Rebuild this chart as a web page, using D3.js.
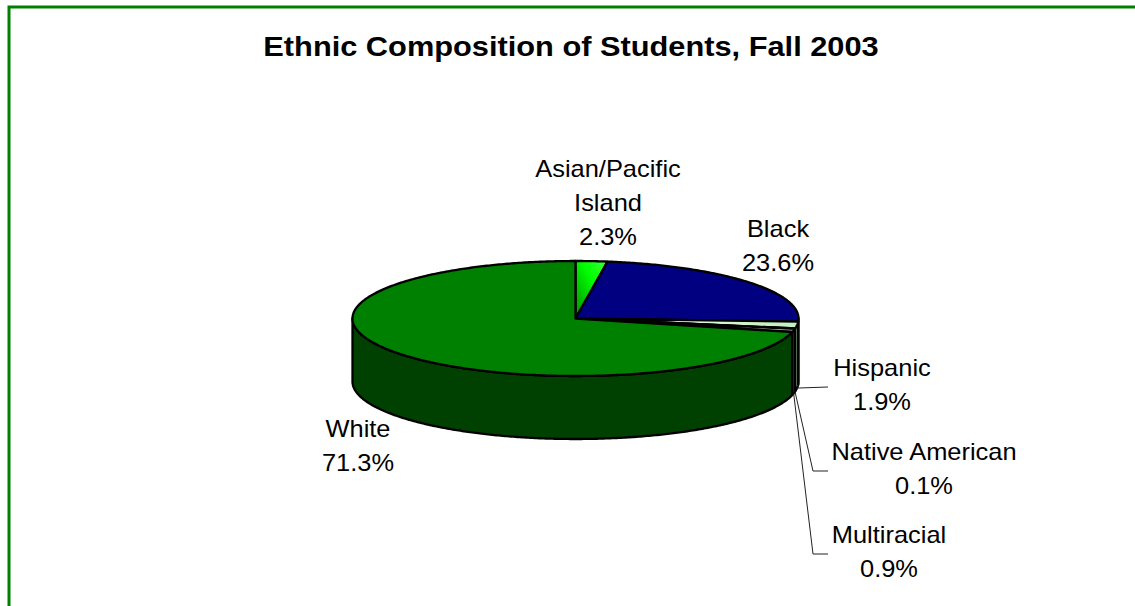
<!DOCTYPE html>
<html><head><meta charset="utf-8">
<script src="https://cdn.jsdelivr.net/npm/d3@7"></script>
<style>html,body{margin:0;padding:0;background:#fff;} svg{display:block;}</style>
</head><body><svg id="chart" width="1135" height="606"></svg>
<script>
// ---- data ----
const categories = ["Asian/Pacific Island","Black","Hispanic","Native American","Multiracial","White"];
const labelLines = [["Asian/Pacific","Island"],["Black"],["Hispanic"],["Native American"],["Multiracial"],["White"]];
const values = [2.3, 23.6, 1.9, 0.1, 0.9, 71.3];
const valueLabels = ["2.3%","23.6%","1.9%","0.1%","0.9%","71.3%"];
const titleText = "Ethnic Composition of Students, Fall 2003";

// ---- styles / layout (kept separate from data) ----
const topColors  = ["url(#gAsian)","#000080","url(#gHisp)","#f4fff4","#d8f0d8","#008000"];
const sideColors = ["#006000","#000040","#a8d8a8","#c8c8c8","#90b090","#004000"];
const labelPos = [[608,177],[778,237],[882,376],[924,460],[889,543],[358,437]];
const leaderElbowX = [null,null,null,813,813,null];
const hasLeader = [false,false,true,true,true,false];
const lineGap = 34;
const cx = 575.5, cy = 318.5, rx = 223, ry = 57.5, depth = 63;
const fontFam = "'Liberation Sans', Arial, Helvetica, sans-serif";

const svg = d3.select("#chart");
const defs = svg.append("defs");
const gA = defs.append("linearGradient").attr("id","gAsian").attr("x1",0).attr("y1",1).attr("x2",1).attr("y2",0);
gA.append("stop").attr("offset","0%").attr("stop-color","#008c00");
gA.append("stop").attr("offset","60%").attr("stop-color","#00ff00");
gA.append("stop").attr("offset","100%").attr("stop-color","#40ff40");
const gH = defs.append("linearGradient").attr("id","gHisp").attr("x1",0).attr("y1",0).attr("x2",1).attr("y2",0);
gH.append("stop").attr("offset","0%").attr("stop-color","#ffffff");
gH.append("stop").attr("offset","100%").attr("stop-color","#c0f0c0");

// border
svg.append("rect").attr("x",9).attr("y",7).attr("width",1300).attr("height",800)
  .attr("fill","none").attr("stroke","#008000").attr("stroke-width",3);

// title
svg.append("g").attr("transform","translate(571,56) scale(1.14,1)")
  .append("text").attr("text-anchor","middle").attr("font-family",fontFam)
  .attr("font-weight","bold").attr("font-size",27).attr("fill","#000").text(titleText);

// pie angles
const pie = d3.pie().sort(null).value(d => d)(values);
const px = a => cx + rx*Math.sin(a);
const py = a => cy - ry*Math.cos(a);
const line = d3.line();
function samples(a, b) {
  const n = Math.max(2, Math.ceil(Math.abs(b-a)/0.01));
  return d3.range(n+1).map(i => a + (b-a)*i/n);
}

// side faces (front half: angles between PI/2 and 3PI/2)
const sides = svg.append("g");
pie.forEach((s,i) => {
  const a = Math.max(s.startAngle, Math.PI/2), b = Math.min(s.endAngle, 3*Math.PI/2);
  if (b <= a) return;
  const topPts = samples(a,b).map(t => [px(t), py(t)]);
  const botPts = samples(b,a).map(t => [px(t), py(t)+depth]);
  sides.append("path").attr("d", line(topPts.concat(botPts)) + "Z")
    .attr("fill", sideColors[i]).attr("stroke","#000").attr("stroke-width",2.3).attr("stroke-linejoin","round");
});

// top faces
const tops = svg.append("g");
pie.forEach((s,i) => {
  const pts = [[cx,cy]].concat(samples(s.startAngle, s.endAngle).map(t => [px(t), py(t)]));
  tops.append("path").attr("d", line(pts) + "Z")
    .attr("fill", topColors[i]).attr("stroke","#000").attr("stroke-width",2.3).attr("stroke-linejoin","round");
});

// leader lines
const leaders = svg.append("g");
pie.forEach((s,i) => {
  if (!hasLeader[i]) return;
  const m = (s.startAngle + s.endAngle)/2;
  const x0 = px(m), y0 = py(m) + depth;
  const ly = labelPos[i][1] + 11;
  const ex = 828;
  const pts = leaderElbowX[i] ? [[x0,y0],[leaderElbowX[i],ly],[ex,ly]] : [[x0,y0],[ex,ly]];
  leaders.append("path").attr("d", line(pts)).attr("fill","none").attr("stroke","#222").attr("stroke-width",1);
});

// labels
const labels = svg.append("g");
categories.forEach((c,i) => {
  const lines = labelLines[i].concat([valueLabels[i]]);
  const g = labels.append("g").attr("transform",`translate(${labelPos[i][0]},${labelPos[i][1]}) scale(1.06,1)`);
  lines.forEach((t,j) => {
    g.append("text").attr("x",0).attr("y",j*lineGap).attr("text-anchor","middle")
      .attr("font-family",fontFam).attr("font-size",24).attr("fill","#000").text(t);
  });
});
</script></body></html>
